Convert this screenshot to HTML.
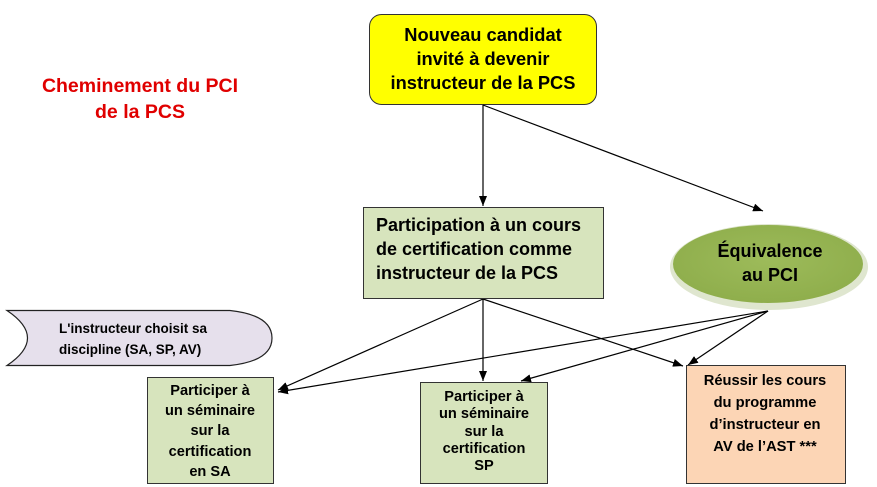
<!DOCTYPE html>
<html><head><meta charset="utf-8"><style>
html,body{margin:0;padding:0;background:#fff;}
svg{display:block;font-family:"Liberation Sans",Arial,sans-serif;font-weight:bold;}
</style></head><body>
<svg width="877" height="487" viewBox="0 0 877 487" xmlns="http://www.w3.org/2000/svg">
<defs>
<marker id="a" markerWidth="10" markerHeight="8" refX="10" refY="4" orient="auto" markerUnits="userSpaceOnUse"><path d="M0,0 L10,4 L0,8 z" fill="#000"/></marker>
<radialGradient id="g" cx="50%" cy="45%" r="55%"><stop offset="0" stop-color="#9dbb5a"/><stop offset="1" stop-color="#8fae4c"/></radialGradient>
</defs>
<text x="140" y="92" fill="#e00000" font-size="19.5" text-anchor="middle">Cheminement  du PCI</text>
<text x="140" y="118" fill="#e00000" font-size="19.5" text-anchor="middle">de la PCS</text>

<rect x="369.5" y="14.5" width="227" height="90" rx="12" fill="#ffff00" stroke="#333" stroke-width="1"/>
<g font-size="18.3" text-anchor="middle" fill="#000">
<text x="483" y="41">Nouveau candidat</text>
<text x="483" y="65">invité à devenir</text>
<text x="483" y="89">instructeur de la PCS</text>
</g>

<g stroke="#000" stroke-width="1.2" fill="none" marker-end="url(#a)">
<line x1="483" y1="105" x2="483" y2="206"/>
<line x1="483" y1="105" x2="763" y2="211"/>
<line x1="483" y1="299" x2="278" y2="390"/>
<line x1="483" y1="299" x2="483" y2="381"/>
<line x1="483" y1="299" x2="683" y2="366"/>
<line x1="768" y1="311" x2="278" y2="392"/>
<line x1="768" y1="311" x2="521" y2="381"/>
<line x1="768" y1="311" x2="688" y2="365"/>
</g>

<rect x="363.5" y="207.5" width="240" height="91" fill="#d7e4bd" stroke="#333"/>
<g font-size="18" fill="#000">
<text x="376" y="231">Participation à un cours</text>
<text x="376" y="255">de certification  comme</text>
<text x="376" y="279">instructeur de la PCS</text>
</g>

<ellipse cx="769" cy="267" rx="99" ry="43" fill="#dfe6cf"/>
<ellipse cx="768" cy="264" rx="95" ry="39" fill="url(#g)"/>
<g font-size="18" text-anchor="middle" fill="#000">
<text x="770" y="257">Équivalence</text>
<text x="770" y="281">au PCI</text>
</g>

<path d="M7,310.5 L230,310.5 Q272,315 272,338 Q272,361 230,365.5 L7,365.5 Q48,338 7,310.5 z" fill="#e6e0ec" stroke="#222" stroke-width="1.2"/>
<g font-size="13.5" fill="#000">
<text x="59" y="333">L'instructeur  choisit sa</text>
<text x="59" y="354">discipline (SA,  SP, AV)</text>
</g>

<rect x="147.5" y="377.5" width="126" height="106" fill="#d7e4bd" stroke="#333"/>
<g font-size="14.6" text-anchor="middle" fill="#000">
<text x="210" y="395">Participer à</text>
<text x="210" y="415">un séminaire</text>
<text x="210" y="435">sur la</text>
<text x="210" y="456">certification</text>
<text x="210" y="476">en SA</text>
</g>

<rect x="420.5" y="382.5" width="127" height="101" fill="#d7e4bd" stroke="#333"/>
<g font-size="14.6" text-anchor="middle" fill="#000">
<text x="484" y="401">Participer à</text>
<text x="484" y="418">un séminaire</text>
<text x="484" y="436">sur la</text>
<text x="484" y="453">certification</text>
<text x="484" y="470">SP</text>
</g>

<rect x="686.5" y="365.5" width="159" height="118" fill="#fcd5b5" stroke="#333"/>
<g font-size="14.7" text-anchor="middle" fill="#000">
<text x="765" y="385">Réussir les cours</text>
<text x="765" y="407">du programme</text>
<text x="765" y="429">d’instructeur en</text>
<text x="765" y="451">AV de l’AST  ***</text>
</g>
</svg>
</body></html>
